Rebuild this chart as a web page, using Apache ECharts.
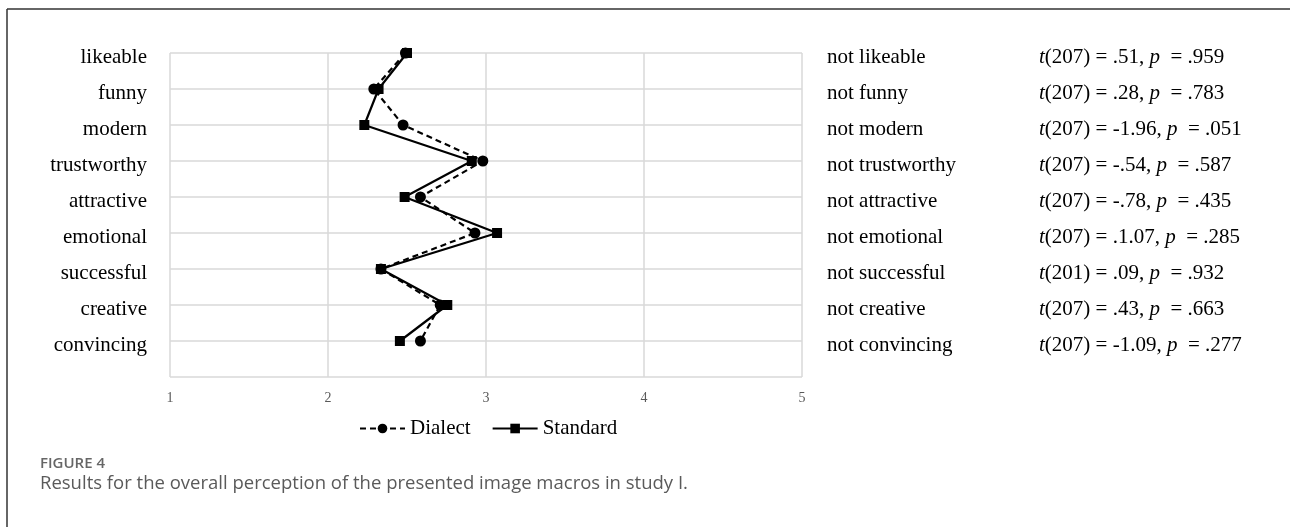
<!DOCTYPE html>
<html>
<head>
<meta charset="utf-8">
<script src="https://cdn.jsdelivr.net/npm/echarts@6/dist/echarts.min.js"></script>
<style>
html,body{margin:0;padding:0;background:#fff;}
#chart{width:1290px;height:527px;}
</style>
</head>
<body>
<div id="chart"></div>
<script>
const categories = ['likeable','funny','modern','trustworthy','attractive','emotional','successful','creative','convincing'];
const opposites = ['not likeable','not funny','not modern','not trustworthy','not attractive','not emotional','not successful','not creative','not convincing'];
const dfValues = ['207','207','207','207','207','207','201','207','207'];
const tValues = ['.51','.28','-1.96','-.54','-.78','.1.07','.09','.43','-1.09'];
const pValues = ['.959','.783','.051','.587','.435','.285','.932','.663','.277'];
const dialect = [2.49, 2.29, 2.475, 2.98, 2.585, 2.93, 2.335, 2.71, 2.585];
const standard = [2.50, 2.32, 2.23, 2.91, 2.485, 3.07, 2.335, 2.755, 2.455];
const xTicks = [1, 2, 3, 4, 5];

const serif = '"Liberation Serif", "Times New Roman", serif';
const statLabels = categories.map((c, i) => '{n|t}{a|(' + dfValues[i] + ') = ' + tValues[i] + ', }{n|p}{a|\u00a0\u00a0= ' + pValues[i] + '}');
const wrap = v => (v ? '{a|' + v + '}' : '');
const richStyle = {
  a: {fontFamily: serif, fontSize: 21, color: '#000'},
  n: {fontStyle: 'italic', fontFamily: serif, fontSize: 21, color: '#000'}
};

const chart = echarts.init(document.getElementById('chart'));
chart.setOption({
  backgroundColor: '#fff',
  animation: false,
  grid: {left: 170, right: 488, top: 53, bottom: 150, containLabel: false},
  xAxis: {
    type: 'value', min: xTicks[0], max: xTicks[xTicks.length - 1], interval: 1,
    axisLine: {show: false}, axisTick: {show: false},
    splitLine: {show: true, lineStyle: {color: '#d9d9d9', width: 1.5}},
    axisLabel: {color: '#595959', fontFamily: serif, fontSize: 14, margin: 14}
  },
  yAxis: [
    {
      type: 'category', inverse: true, boundaryGap: false,
      data: categories.concat(['']),
      axisLine: {show: false}, axisTick: {show: false},
      splitLine: {show: true, interval: 0, lineStyle: {color: '#d9d9d9', width: 1.5}},
      axisLabel: {interval: 0, formatter: wrap, rich: richStyle, margin: 23, padding: [8, 0, 0, 0]}
    },
    {
      type: 'category', inverse: true, boundaryGap: false, position: 'right',
      data: opposites.concat(['']),
      axisLine: {show: false}, axisTick: {show: false}, splitLine: {show: false},
      axisLabel: {interval: 0, formatter: wrap, rich: richStyle, margin: 25, padding: [8, 0, 0, 0]}
    },
    {
      type: 'category', inverse: true, boundaryGap: false, position: 'right', offset: 212,
      data: statLabels.concat(['']),
      axisLine: {show: false}, axisTick: {show: false}, splitLine: {show: false},
      axisLabel: {interval: 0, rich: richStyle, margin: 25, padding: [8, 0, 0, 0]}
    }
  ],
  legend: {
    left: 359, top: 418, padding: 0, itemWidth: 45, itemHeight: 12, itemGap: 21,
    textStyle: {color: '#000', fontFamily: serif, fontSize: 21},
    data: ['Dialect', 'Standard']
  },
  series: [
    {
      name: 'Dialect', type: 'line', yAxisIndex: 0,
      data: dialect.map((v, i) => [v, i]),
      symbol: 'circle', symbolSize: 11,
      lineStyle: {color: '#000', width: 2.2, type: [6, 4]},
      itemStyle: {color: '#000'}
    },
    {
      name: 'Standard', type: 'line', yAxisIndex: 0,
      data: standard.map((v, i) => [v, i]),
      symbol: 'rect', symbolSize: 10,
      lineStyle: {color: '#000', width: 2.2},
      itemStyle: {color: '#000'}
    }
  ],
  graphic: [
    {type: 'line', shape: {x1: 7, y1: 9, x2: 1290, y2: 9}, style: {stroke: '#333', lineWidth: 1.5}},
    {type: 'line', shape: {x1: 7, y1: 9, x2: 7, y2: 527}, style: {stroke: '#333', lineWidth: 1.5}},
    {type: 'text', left: 40, top: 456, style: {text: 'FIGURE 4', fill: '#666', font: '600 15px "Open Sans", sans-serif'}},
    {type: 'text', left: 40, top: 474, style: {text: 'Results for the overall perception of the presented image macros in study I.', fill: '#5a5a5a', font: '18.5px "Open Sans", sans-serif'}}
  ]
});
</script>
</body>
</html>
